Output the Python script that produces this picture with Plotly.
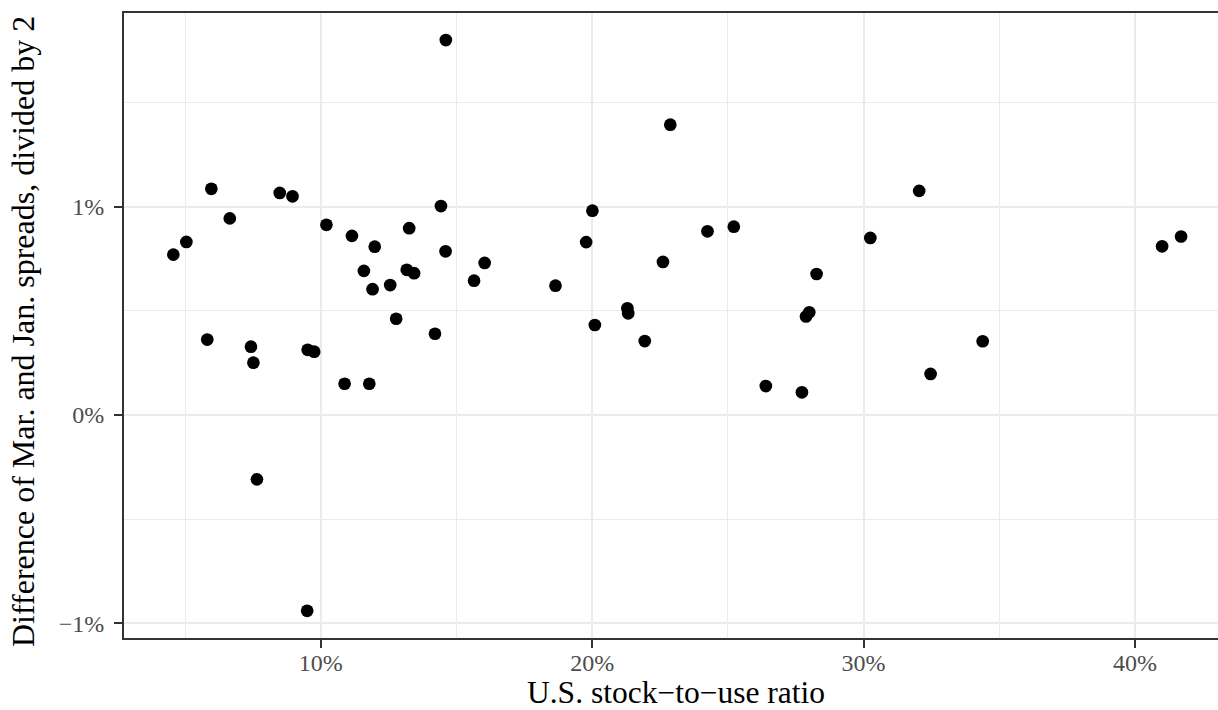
import plotly.graph_objects as go

# U.S. stock-to-use ratio (%)
stock_to_use = [14.61, 5.97, 8.49, 8.96, 14.43, 6.65, 10.21, 13.26, 5.05, 4.57,
                11.15, 11.99, 14.60, 16.04, 11.59, 13.17, 13.44, 15.65, 12.56, 11.91,
                12.78, 14.21, 5.82, 7.43, 7.52, 9.52, 9.76, 10.88, 11.79, 7.65,
                9.50, 22.88, 20.01, 19.78, 24.25, 25.22, 30.25, 22.61, 18.65, 28.27,
                21.30, 21.33, 20.10, 21.94, 28.00, 27.88, 26.40, 27.73, 32.05, 41.00,
                41.70, 34.39, 32.47]
# Difference of Mar. and Jan. spreads, divided by 2 (%)
spread_diff = [1.800, 1.086, 1.066, 1.050, 1.003, 0.944, 0.913, 0.897, 0.831, 0.770,
               0.860, 0.808, 0.786, 0.730, 0.692, 0.697, 0.681, 0.645, 0.624, 0.604,
               0.462, 0.390, 0.362, 0.328, 0.251, 0.313, 0.304, 0.150, 0.150, -0.309,
               -0.940, 1.394, 0.981, 0.830, 0.882, 0.904, 0.850, 0.735, 0.621, 0.677,
               0.512, 0.488, 0.432, 0.355, 0.493, 0.473, 0.139, 0.109, 1.076, 0.810,
               0.857, 0.354, 0.197]

x_tickvals = [10, 20, 30, 40]
x_ticktext = ["10%", "20%", "30%", "40%"]
x_minor = [5, 15, 25, 35]
y_tickvals = [-1, 0, 1]
y_ticktext = ["\u22121%", "0%", "1%"]
y_minor = [-0.5, 0.5, 1.5]

x_title = "U.S. stock\u2212to\u2212use ratio"
y_title = "Difference of Mar. and Jan. spreads, divided by 2"

FONT = "Liberation Serif"
AXIS = "#333333"
GRID = "#EBEBEB"

fig = go.Figure()
fig.add_trace(go.Scatter(
    x=stock_to_use, y=spread_diff, mode="markers",
    marker=dict(color="black", size=12.7, line=dict(width=0)),
    hoverinfo="skip",
))

common = dict(
    showline=True, linecolor=AXIS, linewidth=2,
    ticks="outside", ticklen=8, tickwidth=2, tickcolor=AXIS,
    tickfont=dict(family=FONT, size=24, color="#4D4D4D"),
    showgrid=True, gridcolor=GRID, gridwidth=2, zeroline=False,
    tickmode="array",
)

fig.update_xaxes(
    range=[2.752, 43.06], tickvals=x_tickvals, ticktext=x_ticktext,
    mirror=True, ticklabelstandoff=-6,
    minor=dict(tickmode="array", tickvals=x_minor, showgrid=True,
               gridcolor=GRID, gridwidth=1, ticks=""),
    **common,
)
fig.update_yaxes(
    range=[-1.0706, 1.930], tickvals=y_tickvals, ticktext=y_ticktext,
    mirror=False, ticklabelstandoff=5,
    minor=dict(tickmode="array", tickvals=y_minor, showgrid=True,
               gridcolor=GRID, gridwidth=1, ticks=""),
    **common,
)

fig.update_layout(
    width=1218, height=710,
    margin=dict(l=124, r=0, t=13, b=72, pad=0),
    plot_bgcolor="white", paper_bgcolor="white",
    showlegend=False,
    font=dict(family=FONT, color="black"),
    annotations=[
        dict(text=x_title, xref="paper", yref="paper", x=0.505, y=-0.0918,
             yshift=3, xanchor="center", yanchor="middle", showarrow=False,
             font=dict(family=FONT, size=31.5, color="black")),
        dict(text=y_title, xref="paper", yref="paper", x=0, xshift=-101,
             y=0.4928, yshift=-2, xanchor="center", yanchor="middle", textangle=-90,
             showarrow=False, font=dict(family=FONT, size=32, color="black")),
    ],
)

fig.write_html(
    "out.html",
    config={"displayModeBar": False},
    post_script="document.body.style.margin='0';document.body.style.overflow='hidden';",
)
